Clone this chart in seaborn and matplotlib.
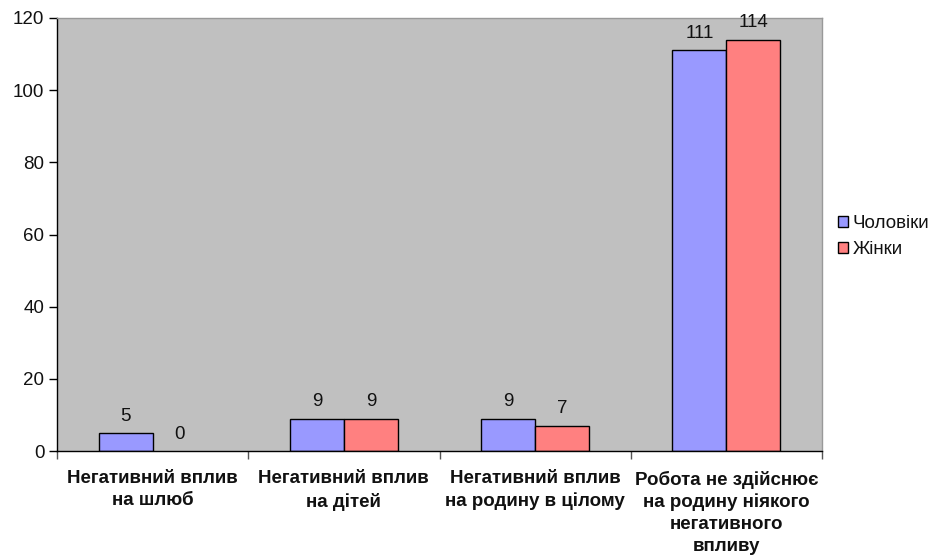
import matplotlib
matplotlib.use("Agg")
import matplotlib.pyplot as plt
import seaborn as sns
import pandas as pd
import numpy as np

categories = ["Негативний вплив\nна шлюб", "Негативний вплив\nна дітей",
              "Негативний вплив\nна родину в цілому",
              "Робота не здійснює\nна родину ніякого\nнегативного\nвпливу"]
men = [5, 9, 9, 111]
women = [0, 9, 7, 114]
series = ["Чоловіки", "Жінки"]
yticks = [0, 20, 40, 60, 80, 100, 120]

sns.set_theme(style="white")
plt.rcParams['font.family'] = ['Liberation Sans', 'DejaVu Sans']

df = pd.DataFrame({
    "cat": categories * 2,
    "val": men + women,
    "ser": [series[0]] * 4 + [series[1]] * 4,
})

fs = 13.5
fig = plt.figure(figsize=(9.31, 5.59), dpi=100)
ax = fig.add_axes([57/931, 1 - 451/559, (822 - 57)/931, (451 - 18)/559])
ax.set_facecolor("#C0C0C0")

sns.barplot(data=df, x="cat", y="val", hue="ser", order=categories, hue_order=series,
            palette=["#9999FF", "#FF8080"], width=0.566, gap=0, edgecolor="black",
            linewidth=1, ax=ax, errorbar=None, saturation=1)

for cont in ax.containers:
    for p, v in zip(cont.patches, cont.datavalues):
        if v == 0:
            p.set_linewidth(0)
    ax.bar_label(cont, labels=[f"{v:.0f}" for v in cont.datavalues], padding=6,
                 fontsize=fs, color="#111111")

ax.set_ylim(0, 120)
ax.set_xlim(-0.5, 3.5)
ax.set_yticks(yticks)
ax.tick_params(axis="y", left=True, length=6, width=1, color="black", labelsize=fs,
               pad=3, labelcolor="#111111")
ax.set_xticks(range(4))
ax.set_xticklabels(categories, fontweight="bold", fontsize=fs, linespacing=1.38,
                   color="#111111")
ax.tick_params(axis="x", bottom=False, length=0, pad=14)
ax.set_xticks(np.arange(-0.5, 4, 1), minor=True)
ax.tick_params(axis="x", which="minor", bottom=True, length=6, width=1, color="#555555")
ax.set_xlabel("")
ax.set_ylabel("")

for s in ["top", "right"]:
    ax.spines[s].set_color("#999999")
    ax.spines[s].set_linewidth(1)
for s in ["left", "bottom"]:
    ax.spines[s].set_color("black")
    ax.spines[s].set_linewidth(1)

leg = ax.legend(loc="center left", bbox_to_anchor=(1.013, 0.495), frameon=False,
                fontsize=fs, handlelength=0.55, handleheight=0.55, handletextpad=0.25,
                labelspacing=0.45, borderaxespad=0.0, borderpad=0.3)
for h in leg.legend_handles:
    h.set_edgecolor("black")
    h.set_linewidth(1)
for t in leg.get_texts():
    t.set_color("#111111")

fig.savefig("out.png", dpi=100)
